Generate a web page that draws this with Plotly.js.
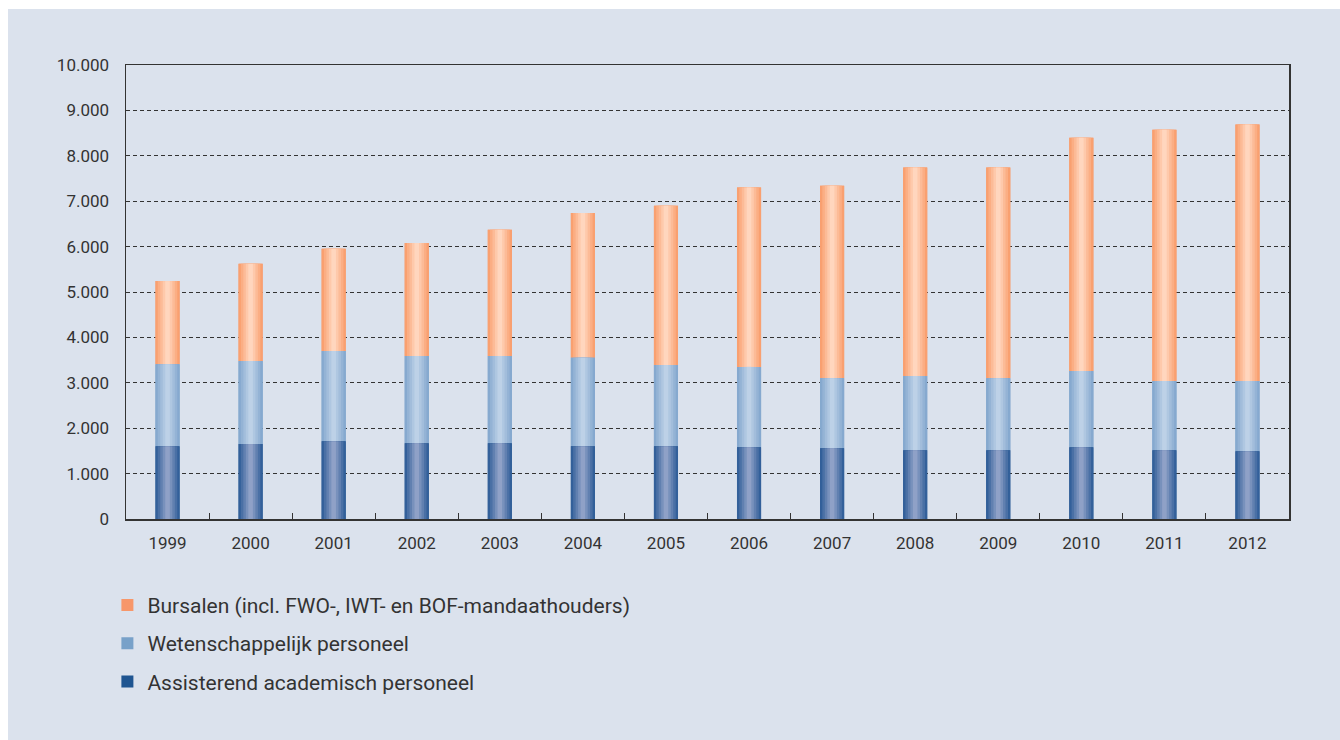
<!DOCTYPE html>
<html>
<head>
<meta charset="utf-8">
<script src="https://cdn.plot.ly/plotly-3.0.1.min.js"></script>
<style>
  html, body { margin: 0; padding: 0; background: #ffffff; }
  #myDiv { position: absolute; left: 8px; top: 9px; width: 1332px; height: 731px; }
</style>
</head>
<body>
<div id="myDiv"></div>
<script>
var years = ['1999', '2000', '2001', '2002', '2003', '2004', '2005',
             '2006', '2007', '2008', '2009', '2010', '2011', '2012'];

var assisterend = [1600, 1650, 1710, 1670, 1670, 1600, 1600,
                   1580, 1560, 1515, 1515, 1580, 1515, 1490];
var wetenschappelijk = [1810, 1830, 1990, 1920, 1920, 1950, 1790,
                        1770, 1540, 1635, 1585, 1680, 1525, 1550];
var bursalen = [1830, 2140, 2250, 2490, 2780, 3190, 3510,
                3950, 4240, 4590, 4640, 5140, 5535, 5650];

var names = ['Bursalen (incl. FWO-, IWT- en BOF-mandaathouders)',
             'Wetenschappelijk personeel',
             'Assisterend academisch personeel'];

// edge -> centre shades to fake the cylinder look of the bars
var shades = {
  burs: ['#f9a070', '#fbae84', '#fcbb97', '#fec9ab', '#ffd6be'],
  wet: ['#86a9cf', '#94b3d5', '#a2bddb', '#afc7e1', '#bdd1e7'],
  ass: ['#33609a', '#4a70a5', '#6180b0', '#7891bc', '#8fa1c7']
};
var legendCols = {burs: '#f7976a', wet: '#78a1c9', ass: '#1f5591'};
var widths = [0.29, 0.235, 0.175, 0.115, 0.055];

// bases for the stacked segments
var baseAss = assisterend.map(function () { return 0; });
var baseWet = assisterend.slice();
var baseBurs = assisterend.map(function (v, i) { return v + wetenschappelijk[i]; });

var series = [
  {key: 'burs', name: names[0], y: bursalen, base: baseBurs},
  {key: 'wet', name: names[1], y: wetenschappelijk, base: baseWet},
  {key: 'ass', name: names[2], y: assisterend, base: baseAss}
];

var data = [];
series.forEach(function (s) {
  // legend entry (hidden under the shaded layers)
  data.push({
    type: 'bar', x: years, y: s.y, base: s.base, width: widths[0],
    name: s.name, legendgroup: s.key, showlegend: true,
    marker: {color: legendCols[s.key], line: {width: 0}}
  });
  widths.forEach(function (w, k) {
    data.push({
      type: 'bar', x: years, y: s.y, base: s.base, width: w,
      name: s.name, legendgroup: s.key, showlegend: false, hoverinfo: 'skip',
      marker: {color: shades[s.key][k], line: {width: 0}}
    });
  });
});

var layout = {
  width: 1332,
  height: 731,
  paper_bgcolor: '#dbe2ed',
  plot_bgcolor: '#dbe2ed',
  margin: {l: 118, r: 51, t: 56, b: 221},
  barmode: 'overlay',
  separators: ',.',
  font: {family: 'Roboto, "Open Sans", sans-serif', color: '#333333', size: 17},
  xaxis: {
    type: 'category',
    showline: true,
    linecolor: '#333333',
    linewidth: 1.5,
    mirror: true,
    ticks: 'inside',
    tickson: 'boundaries',
    ticklen: 6,
    tickcolor: '#333333',
    showgrid: false,
    ticklabelstandoff: 8,
    tickfont: {size: 17, color: '#333333'}
  },
  yaxis: {
    range: [0, 10000],
    dtick: 1000,
    tickformat: ',d',
    showline: true,
    linecolor: '#333333',
    linewidth: 1.5,
    mirror: true,
    ticks: '',
    showgrid: true,
    gridcolor: '#333333',
    gridwidth: 1,
    griddash: '4px,3px',
    zeroline: false,
    ticklabelstandoff: 12,
    tickfont: {size: 17, color: '#333333'}
  },
  showlegend: true,
  legend: {
    orientation: 'v',
    x: -0.016,
    xanchor: 'left',
    y: -0.145,
    yanchor: 'top',
    traceorder: 'grouped',
    tracegroupgap: 8,
    bgcolor: 'rgba(0,0,0,0)',
    font: {size: 21, color: '#333333'}
  }
};

Plotly.newPlot('myDiv', data, layout, {displayModeBar: false, staticPlot: true});
</script>
</body>
</html>
